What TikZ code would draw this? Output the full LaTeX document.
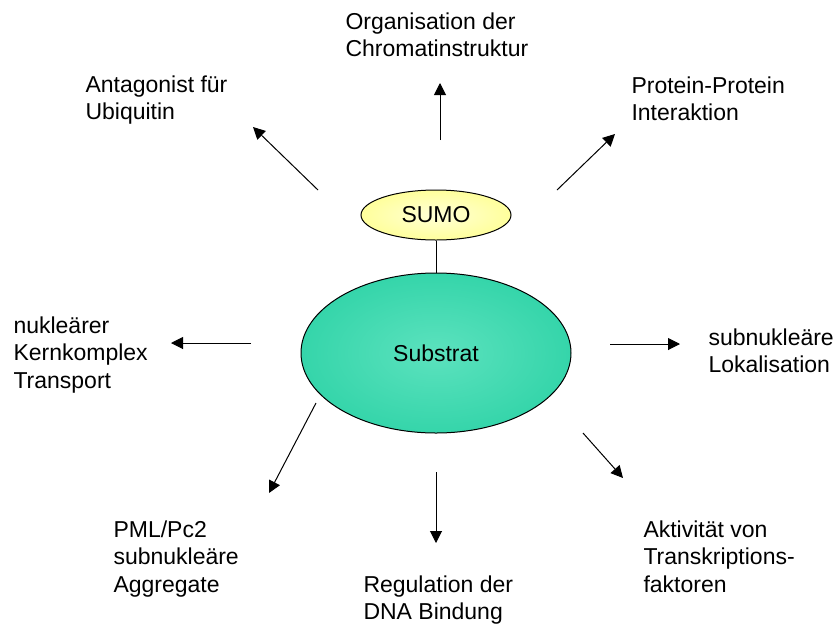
\documentclass[tikz,border=0pt]{standalone}
\usepackage{fontspec}
\setmainfont{Liberation Sans}
\usepackage{tikz}
\usetikzlibrary{arrows,arrows.meta,shapes,shapes.geometric}
\usepackage{xcolor}
\definecolor{substratinnen}{RGB}{92,226,190}
\definecolor{substratrand}{RGB}{14,200,150}
\definecolor{sumoinnen}{RGB}{255,255,215}
\definecolor{sumorand}{RGB}{255,255,96}
\pgfdeclareradialshading{substratglanz}{\pgfpoint{0bp}{0bp}}{color(0bp)=(substratinnen); color(50bp)=(substratrand)}
\pgfdeclareradialshading{sumoglanz}{\pgfpoint{0bp}{0bp}}{color(0bp)=(sumoinnen); color(50bp)=(sumorand)}
\tikzset{
textnode/.style = {align=left, anchor=base west, inner sep=0pt,
font=\fontsize{23}{27.5}\selectfont},% base = letzte Zeile
ell_sub/.style = {ellipse, draw=black, inner sep=0pt, shading=substratglanz, minimum width=270pt, minimum height=160pt, font=\fontsize{23}{27.5}\selectfont},% Substrat
ell_sumo/.style = {ellipse, draw=black, inner sep=0pt, shading=sumoglanz, minimum width=150pt, minimum height=50pt, font=\fontsize{23}{27.5}\selectfont},% SUMO
pfeil/.style = {-{Triangle[length=12pt,width=12pt]}}
}
\begin{document}
\begin{tikzpicture}[x=1pt,y=-1pt, line width=1pt]
	\useasboundingbox (0,0) rectangle (836,625);
	\node [ell_sub] (substrat) at (436,353) {Substrat};
	\node [ell_sumo] (sumo) at (436,215) {SUMO};
	\draw (sumo) -- (substrat);
	% Texte
	\node [textnode] (ubi) at (85,119.5) {Antagonist für\\Ubiquitin};
	\node [textnode] (chrom) at (345,56.5) {Organisation der\\Chromatinstruktur};
	\node [textnode] (ppi) at (631,120.5) {Protein-Protein\\Interaktion};
	\node [textnode] (kern) at (13,388) {nukleärer\\Kernkomplex\\Transport};
	\node [textnode] (lokal) at (708,372.5) {subnukleäre\\Lokalisation};
	\node [textnode] (pml) at (113,592) {PML/Pc2\\subnukleäre\\Aggregate};
	\node [textnode] (dna) at (363,619.5) {Regulation der\\DNA Bindung};
	\node [textnode] (tf) at (643,592) {Aktivität von\\Transkriptions-\\faktoren};
	% Pfeile
	\foreach \nm/\xa/\ya/\xb/\yb in {ubi/318/190/253/127, chrom/440/140/440/83,
	  ppi/557/190/615/134, kern/251/343/171/343, lokal/610/344/680/344,
	  pml/316/403/269/493, dna/436/472/436/543, tf/583/433/623/478}{
	  \coordinate (\nm-a) at (\xa,\ya);
	  \coordinate (\nm-b) at (\xb,\yb);
	  \draw [pfeil] (\nm-a) -- (\nm-b);
	}
\end{tikzpicture}
\end{document}
